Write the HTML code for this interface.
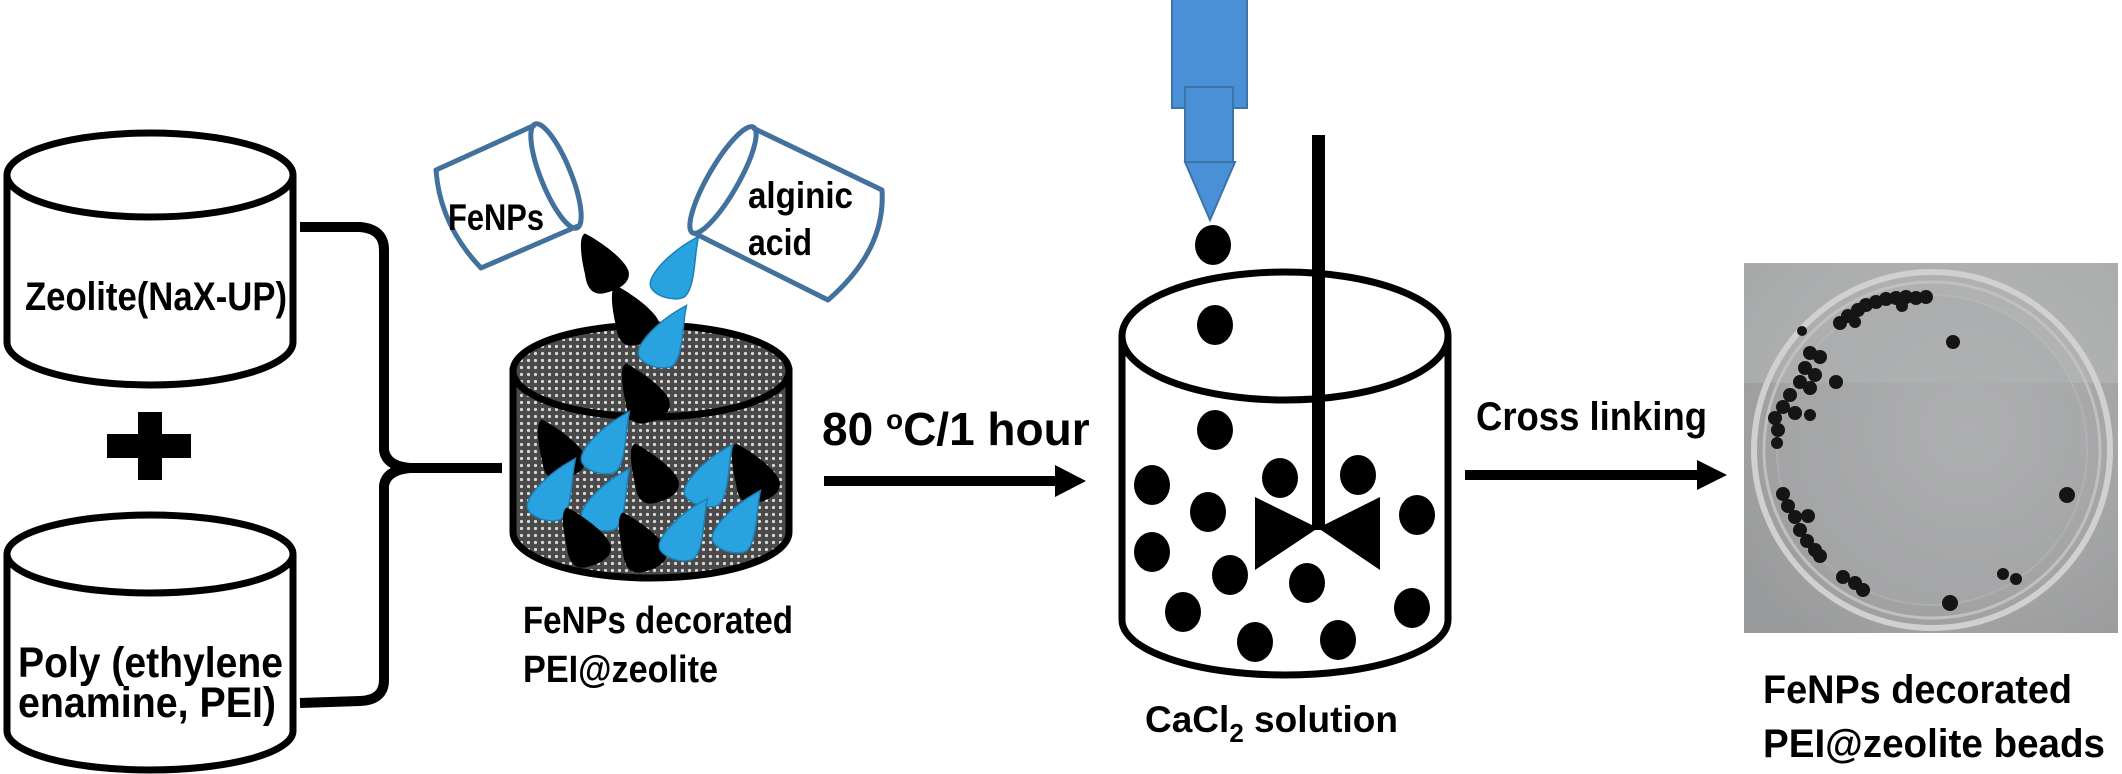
<!DOCTYPE html>
<html><head><meta charset="utf-8"><style>
html,body{margin:0;padding:0;background:#fff;}
svg{display:block;}
text{font-family:"Liberation Sans",sans-serif;font-weight:bold;fill:#000;}
</style></head><body>
<svg width="2122" height="774" viewBox="0 0 2122 774" xmlns="http://www.w3.org/2000/svg">
<defs>
<pattern id="dots" width="7" height="7" patternUnits="userSpaceOnUse">
<rect width="7" height="7" fill="#4a4a4a"/><circle cx="3.5" cy="3.5" r="1.6" fill="#d8d8d8"/>
</pattern>
<path id="bk0" d="M-12,-19 C-4,-15 14,-3 17,6 C19,14 10,19 0,21 C-8,22 -11,16 -12,8 C-14,0 -17,-17 -12,-19Z" fill="#000"/>
<path id="bl0" d="M15,-21 C12,-8 13,12 6,19 C0,23 -15,19 -17,12 C-19,5 -4,-11 15,-21Z" fill="#29a3e0" stroke="#1d7fb8" stroke-width="1"/>
<g id="bk"><use href="#bk0" transform="scale(1.5)"/></g>
<g id="bl"><use href="#bl0" transform="scale(1.5)"/></g>
<radialGradient id="ph" cx="0.6" cy="0.45" r="0.7">
<stop offset="0" stop-color="#b3b4b5"/><stop offset="1" stop-color="#9a9b9c"/></radialGradient>
</defs>

<g fill="#fff" stroke="#000" stroke-width="7">
<path d="M7,175 L7,342 A143,43 0 0 0 293,342 L293,175"/>
<ellipse cx="150" cy="175" rx="143" ry="42"/>
</g>
<text x="25" y="310" font-size="40" textLength="262" lengthAdjust="spacingAndGlyphs">Zeolite(NaX-UP)</text>

<rect x="138" y="412" width="24" height="68" fill="#000"/>
<rect x="107" y="434" width="84" height="24" fill="#000"/>

<g fill="#fff" stroke="#000" stroke-width="7">
<path d="M7,554 L7,731 A143,39 0 0 0 293,731 L293,554"/>
<ellipse cx="150" cy="554" rx="143" ry="39"/>
</g>
<text x="18" y="677" font-size="43" textLength="265" lengthAdjust="spacingAndGlyphs">Poly (ethylene</text>
<text x="18" y="717" font-size="43" textLength="258" lengthAdjust="spacingAndGlyphs">enamine, PEI)</text>

<path d="M300,227 L360,227 Q384,229 384,250 L384,450 Q386,466 410,468 L502,468 M410,468 Q386,470 384,486 L384,680 Q384,700 360,701 L300,703" fill="none" stroke="#000" stroke-width="10"/>

<g stroke="#000" stroke-width="7">
<path d="M513,371 L513,532 A138,46 0 0 0 789,532 L789,371 Z" fill="url(#dots)"/>
<ellipse cx="651" cy="371" rx="138" ry="46" fill="url(#dots)"/>
</g>
<g>
<use href="#bk" x="603" y="262"/>
<use href="#bl" x="676" y="268"/>
<use href="#bk" x="634" y="314"/>
<use href="#bl" x="664" y="337"/>
<use href="#bk" x="644" y="392"/>
<use href="#bk" x="560" y="448"/>
<use href="#bl" x="607" y="443"/>
<use href="#bk" x="653" y="472"/>
<use href="#bl" x="710" y="476"/>
<use href="#bk" x="754" y="472"/>
<use href="#bl" x="553" y="490"/>
<use href="#bl" x="607" y="500"/>
<use href="#bk" x="585" y="536"/>
<use href="#bk" x="641" y="541"/>
<use href="#bl" x="685" y="530"/>
<use href="#bl" x="738" y="522"/>
</g>

<g fill="none" stroke="#41719c" stroke-width="5" stroke-linejoin="round">
<path d="M535,125 L436,170 Q440,225 481,268 L578,226"/>
<ellipse cx="556" cy="176" rx="15" ry="56" transform="rotate(-22 556 176)"/>
<path d="M753,128 L882,190 Q886,250 828,300 L694,233"/>
<ellipse cx="723" cy="180" rx="15" ry="61" transform="rotate(30 723 180)"/>
</g>
<text x="448" y="230" font-size="37" textLength="96" lengthAdjust="spacingAndGlyphs">FeNPs</text>
<text x="748" y="208" font-size="37" textLength="105" lengthAdjust="spacingAndGlyphs">alginic</text>
<text x="748" y="255" font-size="37" textLength="64" lengthAdjust="spacingAndGlyphs">acid</text>

<text x="523" y="633" font-size="38" textLength="270" lengthAdjust="spacingAndGlyphs">FeNPs decorated</text>
<text x="523" y="682" font-size="38" textLength="195" lengthAdjust="spacingAndGlyphs">PEI@zeolite</text>

<rect x="824" y="476" width="235" height="10" fill="#000"/>
<polygon points="1055,465 1086,481 1055,497" fill="#000"/>
<text x="822" y="445" font-size="46">80 <tspan font-size="28" dy="-16">o</tspan><tspan dy="16">C/1 hour</tspan></text>

<g fill="#4a90d6" stroke="#3d74a8" stroke-width="2">
<rect x="1172" y="-2" width="75" height="110"/>
<rect x="1185" y="87" width="48" height="75"/>
<polygon points="1185,162 1235,162 1210,220"/>
</g>

<g fill="none" stroke="#000" stroke-width="7">
<path d="M1122,336 L1122,620 A163,55 0 0 0 1448,620 L1448,336"/>
<ellipse cx="1285" cy="336" rx="163" ry="64"/>
</g>
<rect x="1312" y="135" width="13" height="395" fill="#000"/>
<polygon points="1255,497 1318,528 1255,570" fill="#000"/>
<polygon points="1380,497 1318,528 1380,570" fill="#000"/>
<g fill="#000">
<ellipse cx="1213" cy="245" rx="18" ry="20"/>
<ellipse cx="1215" cy="325" rx="18" ry="20"/>
<ellipse cx="1215" cy="430" rx="18" ry="20"/>
<ellipse cx="1152" cy="485" rx="18" ry="20"/>
<ellipse cx="1280" cy="478" rx="18" ry="20"/>
<ellipse cx="1358" cy="475" rx="18" ry="20"/>
<ellipse cx="1208" cy="512" rx="18" ry="20"/>
<ellipse cx="1417" cy="515" rx="18" ry="20"/>
<ellipse cx="1152" cy="552" rx="18" ry="20"/>
<ellipse cx="1230" cy="575" rx="18" ry="20"/>
<ellipse cx="1307" cy="583" rx="18" ry="20"/>
<ellipse cx="1412" cy="608" rx="18" ry="20"/>
<ellipse cx="1183" cy="612" rx="18" ry="20"/>
<ellipse cx="1255" cy="642" rx="18" ry="20"/>
<ellipse cx="1338" cy="640" rx="18" ry="20"/>
</g>
<text x="1145" y="732" font-size="37">CaCl<tspan font-size="26" dy="10">2</tspan><tspan dy="-10"> solution</tspan></text>

<rect x="1465" y="470" width="235" height="10" fill="#000"/>
<polygon points="1697,460 1727,475 1697,490" fill="#000"/>
<text x="1476" y="430" font-size="40" textLength="231" lengthAdjust="spacingAndGlyphs">Cross linking</text>

<rect x="1744" y="263" width="374" height="370" fill="url(#ph)"/>
<rect x="1744" y="263" width="374" height="120" fill="#c4c5c6" opacity="0.35"/>
<circle cx="1932" cy="450" r="178" fill="none" stroke="#d0d0d0" stroke-width="6"/>
<circle cx="1932" cy="450" r="168" fill="none" stroke="#c0c0c0" stroke-width="3"/>
<circle cx="1932" cy="450" r="155" fill="#a8a9aa" opacity="0.4" stroke="#bfbfbf" stroke-width="2"/>
<g fill="#151515">
<circle cx="1840" cy="323" r="7"/><circle cx="1848" cy="316" r="7"/><circle cx="1858" cy="310" r="7"/><circle cx="1866" cy="305" r="7"/><circle cx="1876" cy="302" r="7"/><circle cx="1886" cy="299" r="7"/><circle cx="1896" cy="298" r="7"/><circle cx="1906" cy="297" r="7"/><circle cx="1916" cy="298" r="7"/><circle cx="1926" cy="297" r="7"/><circle cx="1902" cy="306" r="6"/><circle cx="1855" cy="322" r="6"/>
<circle cx="1802" cy="331" r="5"/>
<circle cx="1810" cy="353" r="7"/><circle cx="1820" cy="357" r="7"/><circle cx="1805" cy="368" r="7"/><circle cx="1815" cy="375" r="7"/><circle cx="1800" cy="382" r="7"/><circle cx="1810" cy="388" r="7"/><circle cx="1836" cy="382" r="7"/><circle cx="1790" cy="395" r="7"/><circle cx="1783" cy="407" r="7"/><circle cx="1795" cy="413" r="7"/><circle cx="1775" cy="418" r="7"/><circle cx="1810" cy="415" r="6"/><circle cx="1778" cy="430" r="7"/><circle cx="1777" cy="443" r="6"/>
<circle cx="1953" cy="342" r="7"/>
<circle cx="1783" cy="494" r="7"/><circle cx="1788" cy="506" r="7"/><circle cx="1795" cy="517" r="7"/><circle cx="1808" cy="516" r="7"/><circle cx="1800" cy="530" r="7"/><circle cx="1807" cy="541" r="7"/><circle cx="1815" cy="550" r="7"/><circle cx="1820" cy="556" r="7"/>
<circle cx="1843" cy="577" r="7"/><circle cx="1855" cy="583" r="7"/><circle cx="1863" cy="590" r="7"/>
<circle cx="1950" cy="603" r="8"/>
<circle cx="2003" cy="574" r="6"/><circle cx="2016" cy="579" r="6"/>
<circle cx="2067" cy="495" r="8"/>
</g>

<text x="1763" y="703" font-size="40" textLength="309" lengthAdjust="spacingAndGlyphs">FeNPs decorated</text>
<text x="1763" y="757" font-size="40" textLength="342" lengthAdjust="spacingAndGlyphs">PEI@zeolite beads</text>
</svg>
</body></html>
